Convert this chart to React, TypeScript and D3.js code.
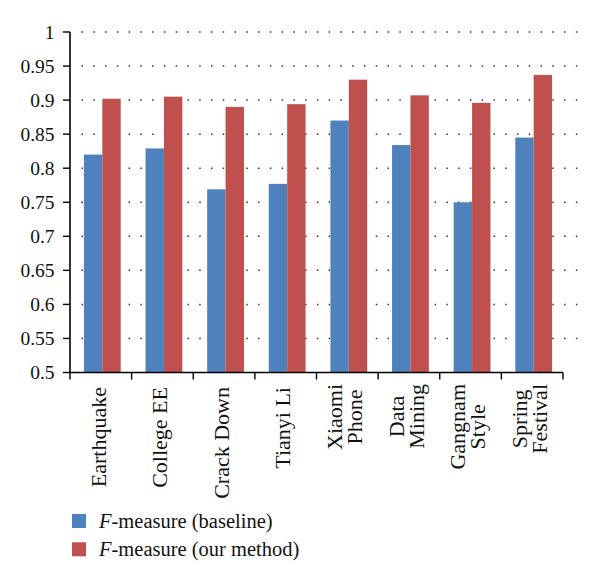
import React, { useLayoutEffect, useRef } from "react";
import * as d3 from "d3";

const categories: string[][] = [
  ["Earthquake"],
  ["College EE"],
  ["Crack Down"],
  ["Tianyi Li"],
  ["Xiaomi", "Phone"],
  ["Data", "Mining"],
  ["Gangnam", "Style"],
  ["Spring", "Festival"],
];
const baseline = [0.82, 0.829, 0.769, 0.777, 0.87, 0.834, 0.75, 0.845];
const ourMethod = [0.902, 0.905, 0.89, 0.894, 0.93, 0.907, 0.896, 0.937];
const yTicks = [0.5, 0.55, 0.6, 0.65, 0.7, 0.75, 0.8, 0.85, 0.9, 0.95, 1];
const seriesNames = ["baseline", "our method"];
const colors = ["#4F81BD", "#C0504D"];

const W = 600;
const H = 583;
const left = 70;
const right = 563;
const top = 32;
const bottom = 372.5;
const font = "'Liberation Serif', 'DejaVu Serif', serif";
const fs = 19.5;
const fsX = 22;
const fsL = 20.5;
const labelTop = 384;

export default function App() {
  const svgRef = useRef<SVGSVGElement>(null);
  const y = d3.scaleLinear().domain([0.5, 1]).range([bottom, top]);
  const x = d3
    .scaleBand<number>()
    .domain(d3.range(categories.length))
    .range([left, right]);
  const bw = 18.4;
  const series = [baseline, ourMethod];

  useLayoutEffect(() => {
    if (!svgRef.current) return;
    d3.select(svgRef.current)
      .selectAll<SVGTextElement, unknown>("text.multi")
      .each(function () {
        const el = this;
        let maxLen = 0;
        d3.select(el)
          .selectAll<SVGTSpanElement, unknown>("tspan")
          .each(function () {
            maxLen = Math.max(maxLen, this.getComputedTextLength());
          });
        const cx = el.getAttribute("data-cx");
        el.setAttribute(
          "transform",
          `translate(${cx},${labelTop + maxLen / 2}) rotate(-90)`
        );
      });
  }, []);

  return (
    <svg
      ref={svgRef}
      width={W}
      height={H}
      style={{ position: "absolute", left: 0, top: 0, background: "#fff" }}
    >
      {/* gridlines */}
      {yTicks
        .filter((t) => t > 0.5)
        .map((t) => (
          <line
            key={"g" + t}
            x1={81.5}
            x2={578}
            y1={y(t)}
            y2={y(t)}
            stroke="#333"
            strokeWidth={1.5}
            strokeDasharray="1.5 10.27"
          />
        ))}
      {/* bars */}
      {categories.map((c, i) =>
        series.map((s, j) => {
          const cx = (x(i) as number) + x.bandwidth() / 2 + 1.5;
          const bx = cx - bw + j * bw;
          return (
            <rect
              key={`b${i}-${j}`}
              x={bx}
              y={y(s[i])}
              width={bw}
              height={bottom - y(s[i])}
              fill={colors[j]}
            />
          );
        })
      )}
      {/* y axis */}
      <line x1={left} x2={left} y1={top} y2={bottom} stroke="#000" strokeWidth={1.6} />
      {yTicks.map((t) => (
        <g key={"yt" + t}>
          <line x1={left - 7} x2={left} y1={y(t)} y2={y(t)} stroke="#000" strokeWidth={1.4} />
          <text
            x={54.5}
            y={y(t)}
            dy="0.35em"
            textAnchor="end"
            fontFamily={font}
            fontSize={fs}
            fill="#111"
          >
            {String(t)}
          </text>
        </g>
      ))}
      {/* x axis */}
      <line x1={left} x2={right} y1={bottom} y2={bottom} stroke="#000" strokeWidth={1.6} />
      {d3.range(categories.length + 1).map((i) => {
        const xx = i < categories.length ? (x(i) as number) : right;
        return (
          <line
            key={"xt" + i}
            x1={xx}
            x2={xx}
            y1={bottom}
            y2={bottom + 7}
            stroke="#000"
            strokeWidth={1.4}
          />
        );
      })}
      {categories.map((lines, i) => {
        const cx = (x(i) as number) + x.bandwidth() / 2 - 3;
        if (lines.length === 1) {
          return (
            <text
              key={"xl" + i}
              transform={`translate(${cx},${labelTop + 3}) rotate(-90)`}
              textAnchor="end"
              dy="0.35em"
              fontFamily={font}
              fontSize={fsX}
              fill="#111"
            >
              {lines[0]}
            </text>
          );
        }
        return (
          <text
            key={"xl" + i}
            className="multi"
            data-cx={cx}
            transform={`translate(${cx},414) rotate(-90)`}
            textAnchor="middle"
            fontFamily={font}
            fontSize={fsX}
            fill="#111"
          >
            {lines.map((l, k) => (
              <tspan key={k} x={0} y={(k - (lines.length - 1) / 2) * 20} dy="0.35em">
                {l}
              </tspan>
            ))}
          </text>
        );
      })}
      {/* legend */}
      {seriesNames.map((n, j) => (
        <g key={"lg" + j} transform={`translate(72,${514 + j * 28.3})`}>
          <rect x={0} y={0} width={14} height={14} fill={colors[j]} />
          <text x={27} y={13.5} fontFamily={font} fontSize={fsL} fill="#111">
            <tspan fontStyle="italic">F</tspan>
            {`-measure (${n})`}
          </text>
        </g>
      ))}
    </svg>
  );
}
